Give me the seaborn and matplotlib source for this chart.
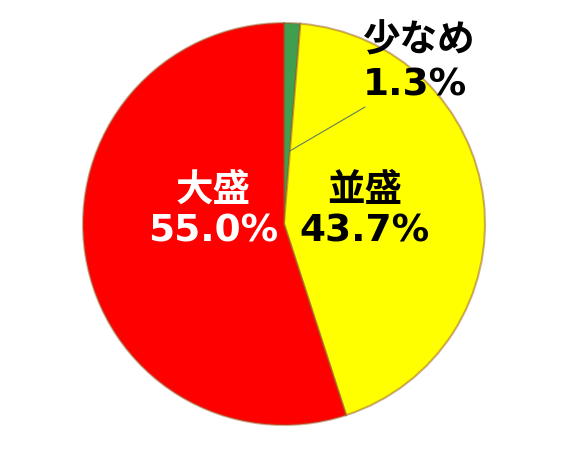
import matplotlib
matplotlib.use("Agg")
import matplotlib.pyplot as plt
import seaborn as sns

categories = ["少なめ", "並盛", "大盛"]
values = [1.3, 43.7, 55.0]
pct_labels = ["1.3%", "43.7%", "55.0%"]
colors = ["#3F9F4F", "#FFFF00", "#FF0000"]

sns.set_theme(style="white")
plt.rcParams['font.family'] = ['Noto Sans CJK JP', 'DejaVu Sans']

W, H = 569, 450
fig = plt.figure(figsize=(W / 100, H / 100), dpi=100)
ax = fig.add_axes([0, 0, 1, 1])

cx, cy, r = 284, H - 224, 201
wedges, _ = ax.pie(values, colors=colors, startangle=90, counterclock=False,
                   center=(cx, cy), radius=r, frame=True,
                   wedgeprops=dict(edgecolor=(0.6, 0.35, 0.15, 0.5), linewidth=1.5))
ax.set_xlim(0, W)
ax.set_ylim(0, H)
ax.set_aspect('equal')
ax.axis('off')

fs_jp = 27
fs_num = 27
num_font = ['DejaVu Sans']
# 大盛
ax.text(213, H - 189, categories[2], color="white", fontsize=fs_jp, fontweight="bold",
        ha="center", va="center")
ax.text(213, H - 232, pct_labels[2], color="white", fontsize=fs_num, fontweight="bold",
        ha="center", va="center", family=num_font)
# 並盛
ax.text(365, H - 189, categories[1], color="black", fontsize=fs_jp, fontweight="bold",
        ha="center", va="center")
ax.text(365, H - 232, pct_labels[1], color="black", fontsize=fs_num, fontweight="bold",
        ha="center", va="center", family=num_font)
# 少なめ
ax.text(363, H - 40, categories[0], color="black", fontsize=fs_jp, fontweight="bold",
        ha="left", va="center")
ax.text(363, H - 86, pct_labels[0], color="black", fontsize=fs_num, fontweight="bold",
        ha="left", va="center", family=num_font)
ax.plot([365, 288], [H - 107, H - 152], color="#5f7f5f", linewidth=0.8)

fig.savefig("out.png", dpi=100, facecolor="white")
